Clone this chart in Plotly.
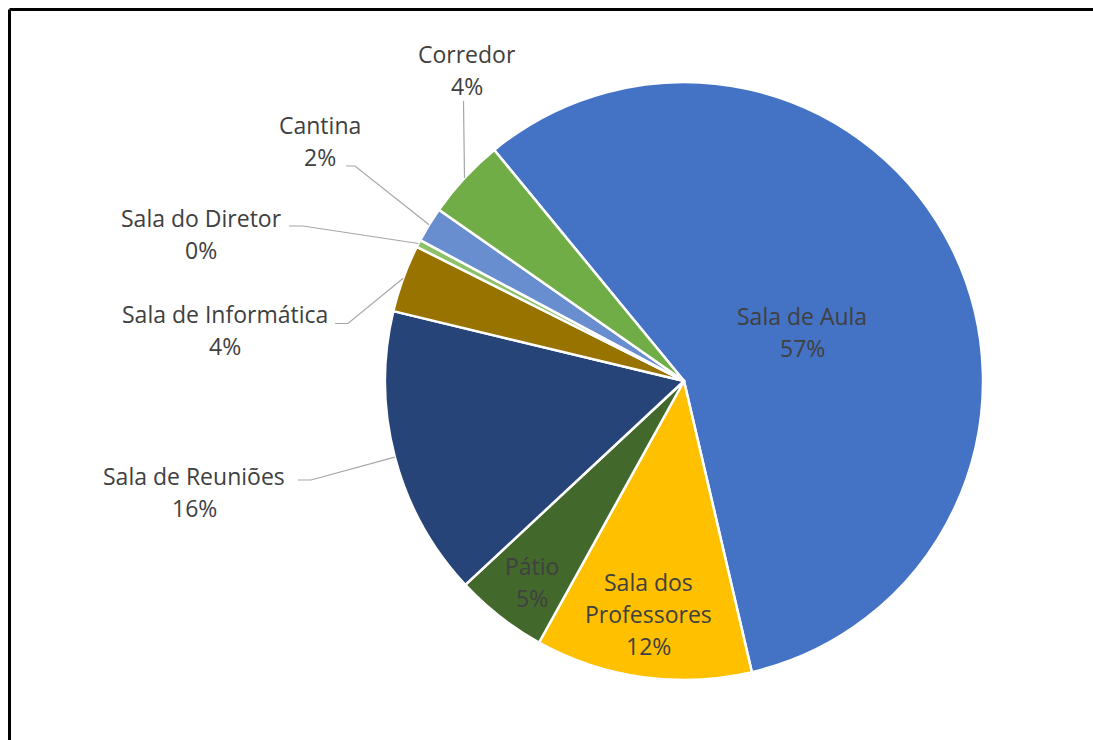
import math
import plotly.graph_objects as go

# ---- data ----
labels = ["Sala de Aula", "Sala dos Professores", "Pátio", "Sala de Reuniões",
          "Sala de Informática", "Sala do Diretor", "Cantina", "Corredor"]
values = [57.3, 11.7, 5.0, 15.7, 3.65, 0.4, 1.9, 4.35]
colors = ["#4472C4", "#FFC000", "#43682B", "#264478",
          "#997300", "#8CC168", "#698ED0", "#70AD47"]
# how each label is wrapped on screen
label_lines = {
    "Sala dos Professores": ["Sala dos", "Professores"],
}

# ---- layout constants (pixels in the page) ----
OFF = 0            # body margin removed via post_script
W, H = 1093, 740   # figure size
CX, CY, R = 684, 381, 299
ROTATION = -39.4
FONT = "Open Sans"
FSIZE = 23
LINE = 32
TXT = "#404040"

# label centre (first line) and leader start / elbow, per label
label_place = {
    "Sala de Aula": (802, 316, None, None),
    "Sala dos Professores": (648, 582, None, None),
    "Pátio": (532, 566, None, None),
    "Sala de Reuniões": (194, 476, (298, 480), (311, 480)),
    "Sala de Informática": (225, 314, (335, 323.5), (348, 323.5)),
    "Sala do Diretor": (201, 218, (289, 226), (303, 226)),
    "Cantina": (320, 125, (346, 166), (355, 166)),
    "Corredor": (467, 54, (463.5, 101), None),
}


def px(X):
    return (X - OFF) / W


def py(Y):
    return 1 - (Y - OFF) / H


total = sum(values)
fig = go.Figure(go.Pie(
    labels=labels, values=values, sort=False, direction="clockwise",
    rotation=ROTATION, textinfo="none",
    marker=dict(colors=colors, line=dict(color="white", width=2.5)),
    domain=dict(x=[px(CX - R), px(CX + R)], y=[py(CY + R), py(CY - R)]),
    showlegend=False,
))

annotations = []
shapes = []
cum = 0.0
for lab, v in zip(labels, values):
    mid = ROTATION + (cum + v / 2) / total * 360.0
    cum += v
    ex = CX + R * math.sin(math.radians(mid))
    ey = CY - R * math.cos(math.radians(mid))
    lx, ly, start, elbow = label_place[lab]
    lines = label_lines.get(lab, [lab]) + [f"{round(v / total * 100)}%"]
    for i, t in enumerate(lines):
        annotations.append(dict(
            x=px(lx), y=py(ly + i * LINE), xref="paper", yref="paper",
            text=t, showarrow=False, xanchor="center", yanchor="middle",
            font=dict(family=FONT, size=FSIZE, color=TXT)))
    if start is not None:
        pts = [start] + ([elbow] if elbow else []) + [(ex, ey)]
        path = "M " + " L ".join(f"{px(a):.5f},{py(b):.5f}" for a, b in pts)
        shapes.append(dict(type="path", xref="paper", yref="paper", path=path,
                           line=dict(color="#A6A6A6", width=1.2)))

# frame (top and left edges)
shapes.append(dict(type="line", xref="paper", yref="paper",
                   x0=px(9.5), y0=py(9.5), x1=px(1200), y1=py(9.5),
                   line=dict(color="black", width=3)))
shapes.append(dict(type="line", xref="paper", yref="paper",
                   x0=px(9.5), y0=py(9.5), x1=px(9.5), y1=py(900),
                   line=dict(color="black", width=3)))

fig.update_layout(
    width=W, height=H, margin=dict(l=0, r=0, t=0, b=0),
    paper_bgcolor="white", plot_bgcolor="white",
    annotations=annotations, shapes=shapes,
)
fig.write_html(
    "out.html",
    config={"displayModeBar": False},
    post_script="document.body.style.margin='0';document.body.style.overflow='hidden';",
)
